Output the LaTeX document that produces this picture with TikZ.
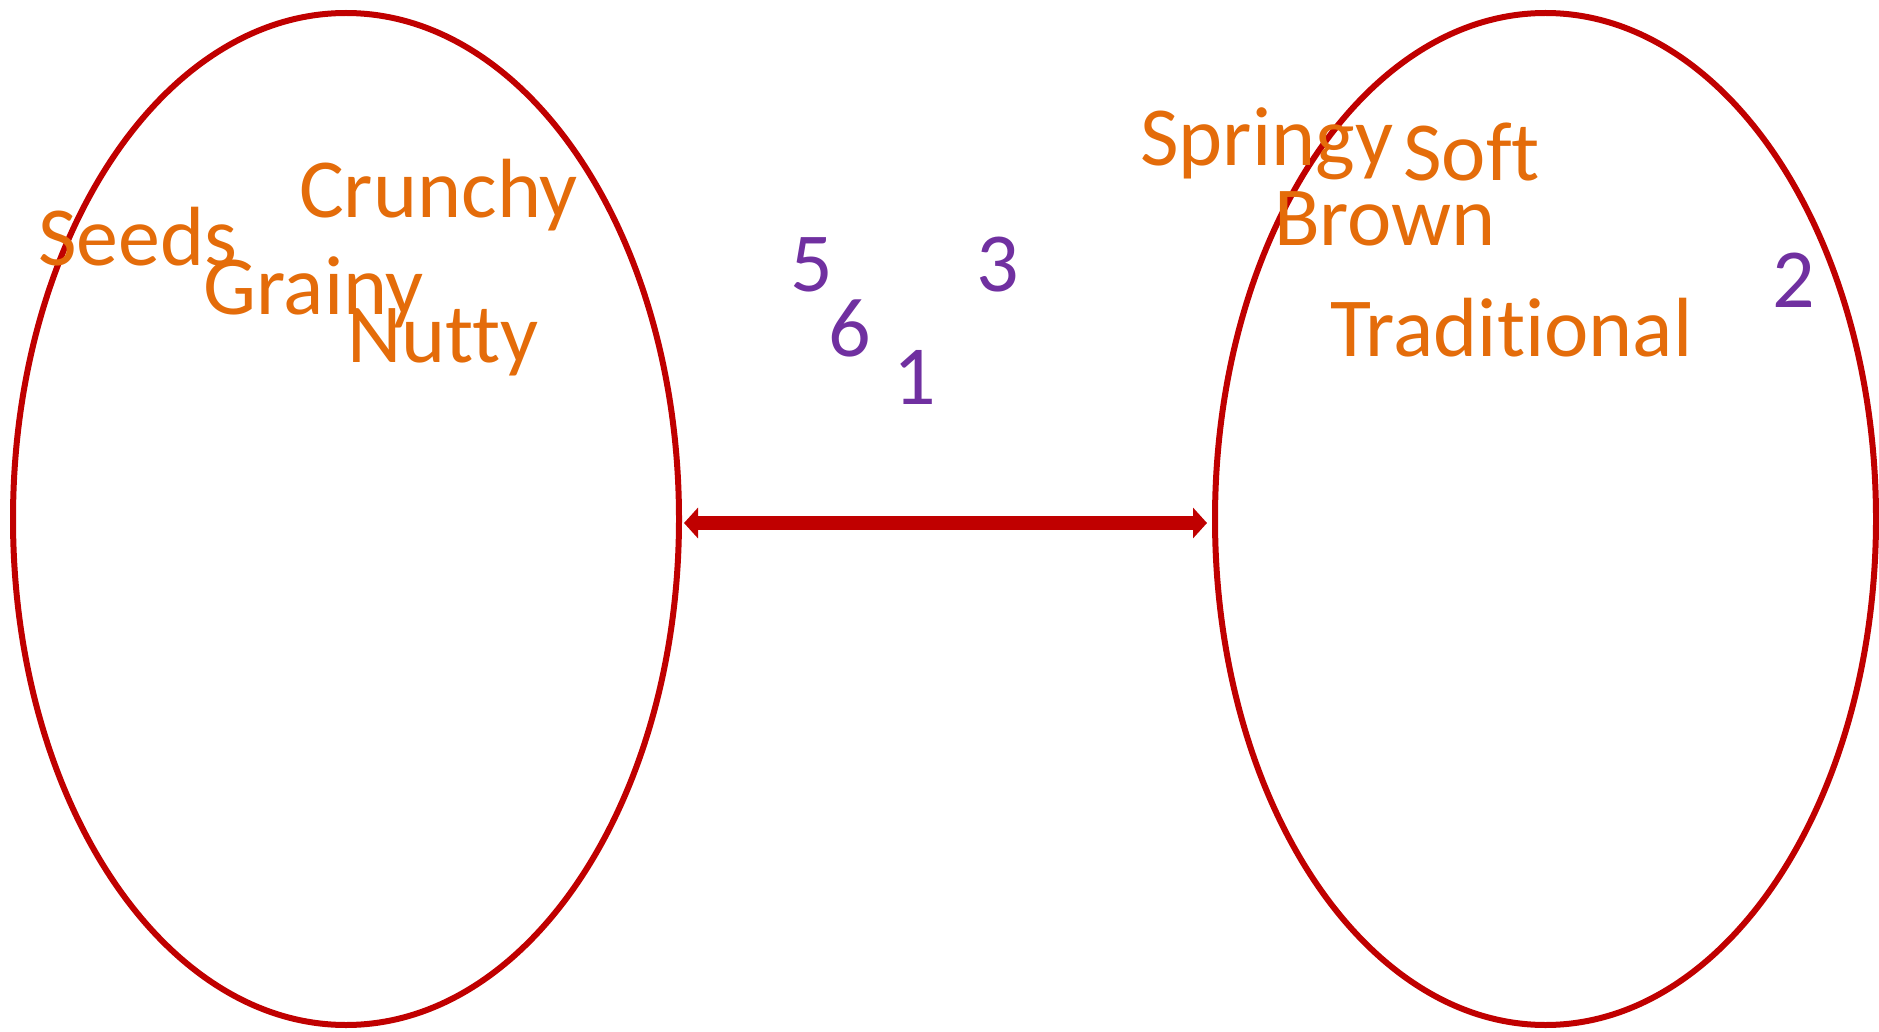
\documentclass[tikz,border=0pt]{standalone}
\usepackage{fontspec}
\setmainfont{Carlito}[Ligatures=CommonOff]
\usetikzlibrary{shapes.geometric,arrows.meta}
\definecolor{ored}{HTML}{C00000}
\definecolor{oorange}{HTML}{E46C0A}
\definecolor{opurple}{HTML}{7030A0}
\begin{document}
\begin{tikzpicture}[x=1pt,y=-1pt,
  oval/.style={ellipse, draw=ored, line width=6pt, inner sep=0pt, outer sep=0pt, minimum width=666pt, minimum height=1012pt},
  word/.style={anchor=base west, inner sep=0pt, text=oorange, font=\fontsize{84}{100}\selectfont},
  num/.style={anchor=base west, inner sep=0pt, text=opurple, font=\fontsize{84}{100}\selectfont},
  link/.style={draw=ored, line width=14pt, {Triangle[width=30pt,length=14pt]}-{Triangle[width=30pt,length=14pt]}, shorten <=5pt, shorten >=8pt}]
\useasboundingbox (0,0) rectangle (1879,1032);
\node[oval] (L) at (346,519) {};
\node[oval, minimum width=661pt] (R) at (1545.5,519) {};
\draw[link] ([yshift=-4pt]L.east) -- ([yshift=-4pt]R.west);
\node[word] (crunchy) at (299,218) {Crunchy};
\node[word] (seeds) at (38,266) {Seeds};
\node[word] (grainy) at (203,314) {Grainy};
\node[word] (nutty) at (347,362) {Nutty};
\node[word] (springy) at (1140,166) {Springy};
\node[word] (soft) at (1403,181) {Soft};
\node[word] (brown) at (1274,246) {Brown};
\node[word] (trad) at (1330,356) {Tradit\kern0pt ional};
\node[num] (n5) at (790,292) {5};
\node[num] (n3) at (976,292) {3};
\node[num] (n6) at (828,356) {6};
\node[num] (n1) at (893,404) {1};
\node[num] (n2) at (1772,308) {2};
\end{tikzpicture}
\end{document}
